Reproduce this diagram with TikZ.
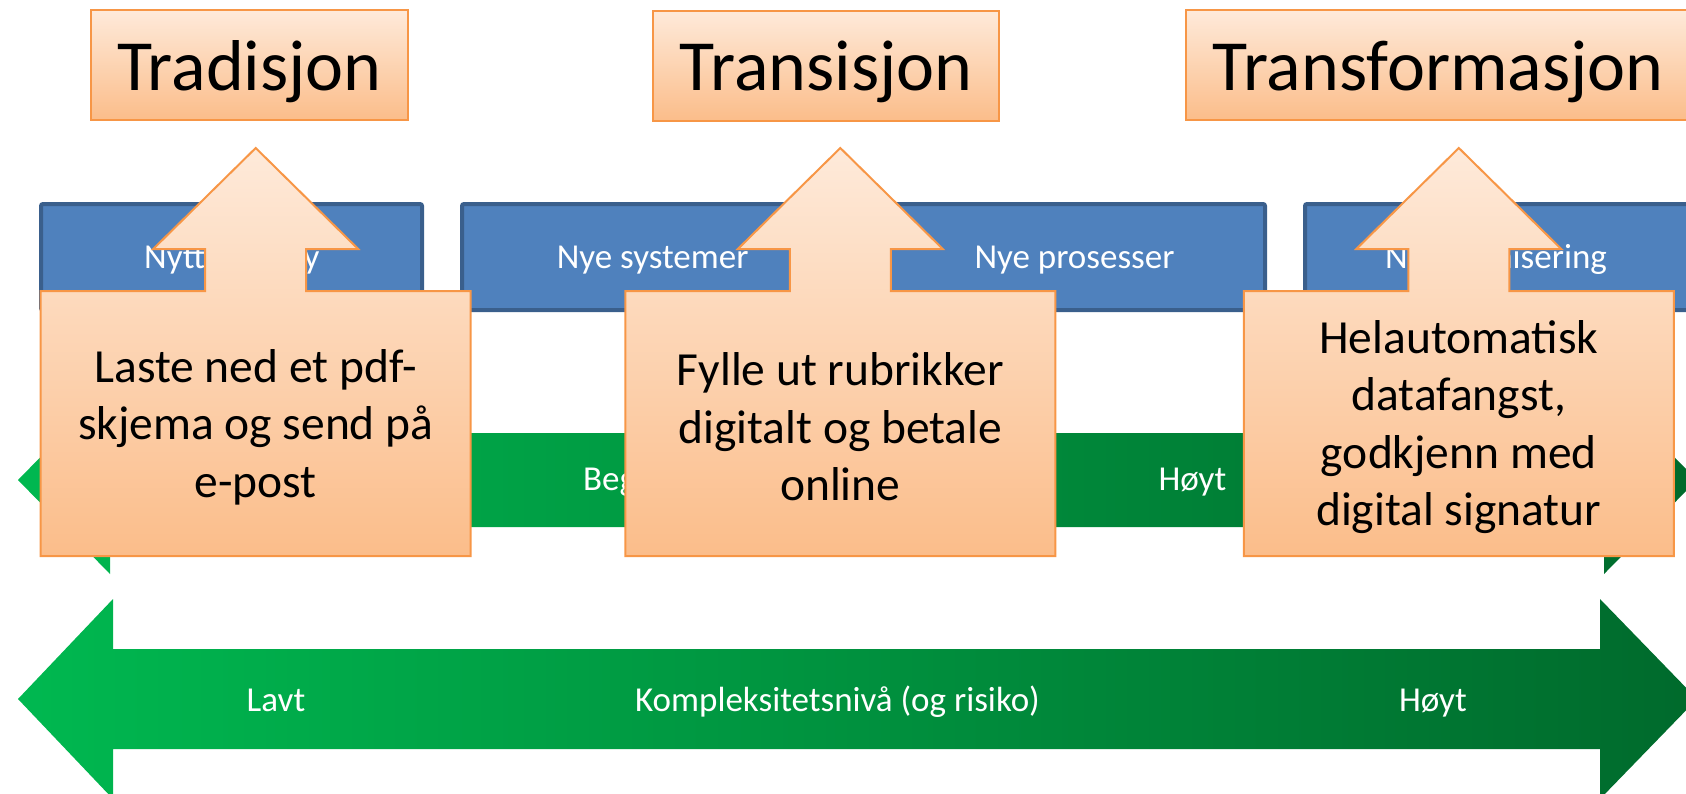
\documentclass[tikz,border=0pt]{standalone}
\usepackage{fontspec}
\setmainfont{Carlito}
\definecolor{orgTop}{RGB}{254,234,218}
\definecolor{orgBot}{RGB}{251,189,138}
\definecolor{orgLine}{RGB}{247,150,70}
\definecolor{blueFill}{RGB}{79,129,189}
\definecolor{blueLine}{RGB}{58,95,140}
\definecolor{grnL}{RGB}{0,184,80}
\definecolor{grnR}{RGB}{0,106,44}
\tikzset{
  titlebox/.style={draw=orgLine, line width=2pt, top color=orgTop, bottom color=orgBot, inner sep=0pt},
  titletext/.style={font=\fontsize{72}{86}\selectfont, text=black, inner sep=0pt, anchor=base},
  bluebox/.style={draw=blueLine, line width=4pt, fill=blueFill, rounded corners=2pt},
  bluetext/.style={font=\fontsize{35}{42}\selectfont, text=white, inner sep=0pt, anchor=base},
  grnarrow/.style={left color=grnL, right color=grnR, draw=none},
  grntext/.style={font=\fontsize{35}{42}\selectfont, text=white, inner sep=0pt, anchor=base},
  callout/.style={draw=orgLine, line width=2pt, top color=orgTop, bottom color=orgBot, line join=miter},
  calltext/.style={font=\fontsize{47.5}{57.5}\selectfont, text=black, align=center, inner sep=0pt}
}
\begin{document}
\begin{tikzpicture}[x=1pt,y=-1pt]
\useasboundingbox (0,0) rectangle (1686,793);
% title boxes
\node[titlebox, minimum width=317pt, minimum height=110pt] (t1box) at (249.5,65) {};
\node[titletext] (t1) at (249.5,90) {Tradisjon};
\node[titlebox, minimum width=346pt, minimum height=110pt] (t2box) at (826,65.5) {};
\node[titletext] (t2) at (826,90) {Transisjon};
\node[titlebox, minimum width=505pt, minimum height=110pt] (t3box) at (1438,65) {};
\node[titletext] (t3) at (1438,90) {Transformasjon};
% blue boxes
\draw[bluebox] (41,204) rectangle (422,310);
\node[bluetext] (b1) at (231.7,268) {Nytt verktøy};
\draw[bluebox] (462,204) rectangle (1265,310);
\node[bluetext] (b2a) at (652.6,268) {Nye systemer};
\node[bluetext] (b2b) at (1074.5,268) {Nye prosesser};
\draw[bluebox] (1305,204) rectangle (1692,310);
\node[bluetext] (b3) at (1496,268) {Ny organisering};
% upper green arrow
\path[grnarrow] (18,480) -- (110,386) -- (110,433) -- (1604,433) -- (1604,386) -- (1697,480) -- (1604,574) -- (1604,527) -- (110,527) -- (110,574) -- cycle;
\node[grntext, anchor=base west] (g1) at (583,490.7) {Begrenset};
\node[grntext] (g2) at (1192.5,490.7) {Høyt};
% lower green arrow
\path[grnarrow] (18,699) -- (113,599) -- (113,649) -- (1600,649) -- (1600,599) -- (1697,699) -- (1600,799) -- (1600,749) -- (113,749) -- (113,799) -- cycle;
\node[grntext] (l1) at (276,711) {Lavt};
\node[grntext] (l2) at (837.5,711) {Kompleksitetsnivå (og risiko)};
\node[grntext] (l3) at (1433,711) {Høyt};
% callouts
\begin{scope}[shift={(255.7,0)}]
\draw[callout] (-215,291) -- (-50.5,291) -- (-50.5,249) -- (-102.5,249) -- (0,148) -- (102.5,249) -- (50.5,249) -- (50.5,291) -- (215,291) -- (215,556) -- (-215,556) -- cycle;
\node[calltext] (c1) at (0,427) {Laste ned et pdf-\\skjema og send på\\e-post};
\end{scope}
\begin{scope}[shift={(840.3,0)}]
\draw[callout] (-215,291) -- (-50.5,291) -- (-50.5,249) -- (-102.5,249) -- (0,148) -- (102.5,249) -- (50.5,249) -- (50.5,291) -- (215,291) -- (215,556) -- (-215,556) -- cycle;
\node[calltext] (c2) at (0,427) {Fylle ut rubrikker\\digitalt og betale\\online};
\end{scope}
\begin{scope}[shift={(1458.8,0)}]
\draw[callout] (-215,291) -- (-50.5,291) -- (-50.5,249) -- (-102.5,249) -- (0,148) -- (102.5,249) -- (50.5,249) -- (50.5,291) -- (215,291) -- (215,556) -- (-215,556) -- cycle;
\node[calltext] (c3) at (0,427) {Helautomatisk\\datafangst,\\godkjenn med\\digital signatur};
\end{scope}
\end{tikzpicture}
\end{document}
